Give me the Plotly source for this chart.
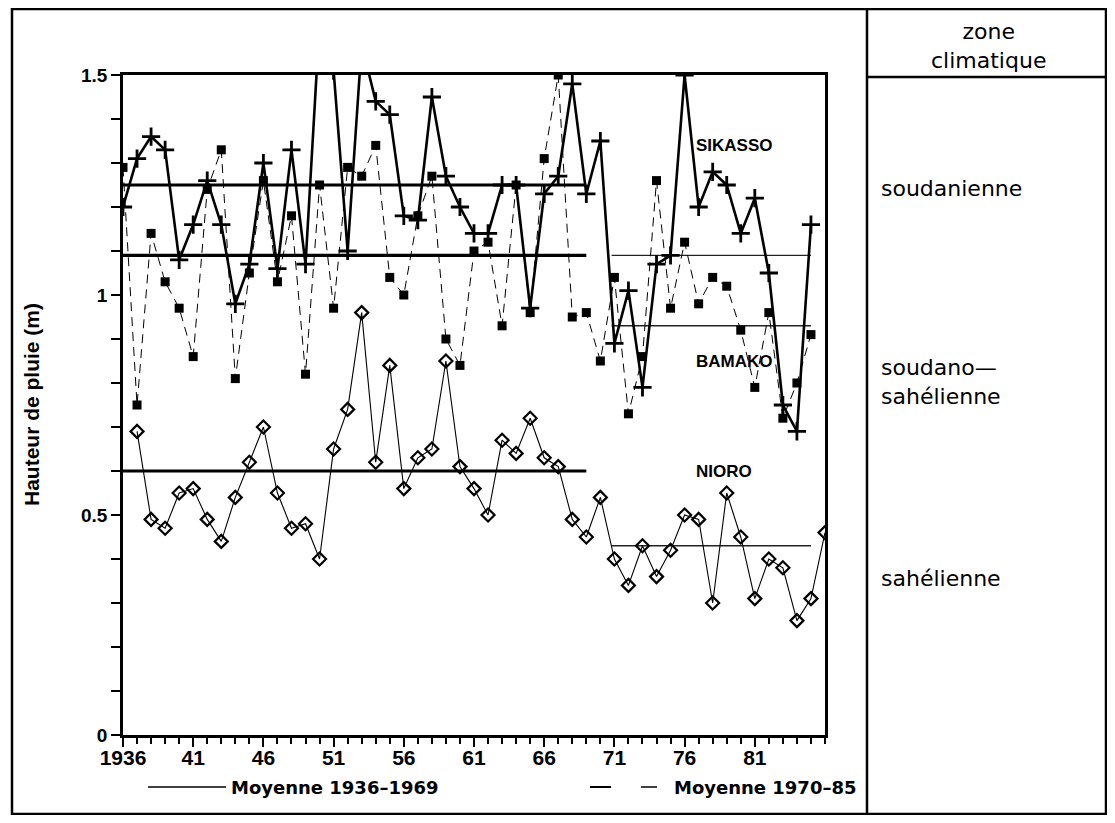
import plotly.graph_objects as go

# ---------------- data ----------------
years = list(range(1936, 1986))
sikasso = [1.20, 1.31, 1.36, 1.33, 1.08, 1.16, 1.26, 1.16, 0.98, 1.07,
           1.30, 1.06, 1.33, 1.07, 1.62, 1.51, 1.10, 1.57, 1.44, 1.41,
           1.18, 1.17, 1.45, 1.27, 1.20, 1.14, 1.14, 1.25, 1.25, 0.97,
           1.23, 1.27, 1.48, 1.23, 1.35, 0.89, 1.01, 0.79, 1.07, 1.09,
           1.50, 1.20, 1.28, 1.25, 1.14, 1.22, 1.05, 0.75, 0.69, 1.16]
bamako = [1.29, 0.75, 1.14, 1.03, 0.97, 0.86, 1.24, 1.33, 0.81, 1.05,
          1.26, 1.03, 1.18, 0.82, 1.25, 0.97, 1.29, 1.27, 1.34, 1.04,
          1.00, 1.18, 1.27, 0.90, 0.84, 1.10, 1.12, 0.93, 1.25, 0.96,
          1.31, 1.50, 0.95, 0.96, 0.85, 1.04, 0.73, 0.86, 1.26, 0.97,
          1.12, 0.98, 1.04, 1.02, 0.92, 0.79, 0.96, 0.72, 0.80, 0.91]
nioro_years = list(range(1937, 1987))
nioro = [0.69, 0.49, 0.47, 0.55, 0.56, 0.49, 0.44, 0.54, 0.62, 0.70,
         0.55, 0.47, 0.48, 0.40, 0.65, 0.74, 0.96, 0.62, 0.84, 0.56,
         0.63, 0.65, 0.85, 0.61, 0.56, 0.50, 0.67, 0.64, 0.72, 0.63,
         0.61, 0.49, 0.45, 0.54, 0.40, 0.34, 0.43, 0.36, 0.42, 0.50,
         0.49, 0.30, 0.55, 0.45, 0.31, 0.40, 0.38, 0.26, 0.31, 0.46]

stations = ["SIKASSO", "BAMAKO", "NIORO"]
mean_1936_69 = [1.25, 1.09, 0.60]
mean_1970_85 = [1.09, 0.93, 0.43]
period1 = [1936, 1969]
period2 = [1970.8, 1985]
label_y = [1.34, 0.85, 0.598]

x_tick_vals = [1936, 1941, 1946, 1951, 1956, 1961, 1966, 1971, 1976, 1981]
x_tick_text = ["1936", "41", "46", "51", "56", "61", "66", "71", "76", "81"]
y_tick_vals = [0, 0.5, 1, 1.5]
y_tick_text = ["0", "0.5", "1", "1.5"]

zones = ["soudanienne", "soudano—<br>sahélienne", "sahélienne"]
legend_texts = ["Moyenne 1936–1969", "Moyenne 1970–85"]

# ---------------- layout geometry (screen pixels; page body has an 8px margin) ----------------
OFF = 8
W, H = 1115 - 2 * OFF, 823 - 2 * OFF
L, R, T, B = 123, 825, 75, 735
def px(x):
    return (x - L) / (R - L)
def py(y):
    return (B - y) / (B - T)

BOLD = "Liberation Sans"
WIDE = "DejaVu Sans"
fig = go.Figure()

# mean lines
for m1, m2 in zip(mean_1936_69, mean_1970_85):
    fig.add_trace(go.Scatter(x=period1, y=[m1, m1], mode="lines",
                             line=dict(color="black", width=3.2),
                             hoverinfo="skip", showlegend=False))
    fig.add_trace(go.Scatter(x=period2, y=[m2, m2], mode="lines",
                             line=dict(color="#222", width=1.4),
                             hoverinfo="skip", showlegend=False))

fig.add_trace(go.Scatter(x=nioro_years, y=nioro, mode="lines+markers", name="NIORO",
                         line=dict(color="black", width=1.1),
                         marker=dict(symbol="diamond-open", size=10, color="black",
                                     line=dict(width=2.2, color="black"))))
fig.add_trace(go.Scatter(x=years, y=bamako, mode="lines+markers", name="BAMAKO",
                         line=dict(color="black", width=1.0, dash="9px,6px"),
                         marker=dict(symbol="square", size=9, color="black")))
fig.add_trace(go.Scatter(x=years, y=sikasso, mode="lines+markers", name="SIKASSO",
                         line=dict(color="black", width=2.6),
                         marker=dict(symbol="cross-thin", size=13, color="black",
                                     line=dict(width=2.8, color="black"))))

# station labels
for name, ly in zip(stations, label_y):
    fig.add_annotation(x=1976.7, y=ly, text=name, showarrow=False, xanchor="left",
                       yanchor="middle", font=dict(family=BOLD, size=17, color="black",
                                                   weight="bold"))

# y axis title
fig.add_annotation(xref="paper", yref="paper", x=px(31), y=py(405),
                   xanchor="center", yanchor="middle",
                   text="Hauteur de pluie (m)", textangle=-90, showarrow=False,
                   font=dict(family=BOLD, size=21, color="black", weight="bold"))

# frame shapes
line_k = dict(color="black", width=2.5)
fig.add_shape(type="rect", xref="paper", yref="paper", x0=px(12), x1=px(1106),
              y0=py(814), y1=py(9), line=line_k)
fig.add_shape(type="line", xref="paper", yref="paper", x0=px(867), x1=px(867),
              y0=py(814), y1=py(9), line=line_k)
fig.add_shape(type="line", xref="paper", yref="paper", x0=px(867), x1=px(1106),
              y0=py(77), y1=py(77), line=line_k)

# right panel texts
fig.add_annotation(xref="paper", yref="paper", x=px(988), y=py(46),
                   xanchor="center", yanchor="middle",
                   text="zone<br>climatique", showarrow=False, align="center",
                   font=dict(family=WIDE, size=22, color="black"))
zone_y = [188, 382, 578]
for z, zy in zip(zones, zone_y):
    fig.add_annotation(xref="paper", yref="paper", x=px(879), y=py(zy), text=z,
                       showarrow=False, xanchor="left", yanchor="middle", align="left",
                       font=dict(family=WIDE, size=22, color="black"))

# bottom legend
fig.add_shape(type="line", xref="paper", yref="paper", x0=px(148), x1=px(226),
              y0=py(787), y1=py(787), line=dict(color="black", width=1.5))
fig.add_shape(type="line", xref="paper", yref="paper", x0=px(590), x1=px(611),
              y0=py(787), y1=py(787), line=dict(color="black", width=2))
fig.add_shape(type="line", xref="paper", yref="paper", x0=px(641), x1=px(657),
              y0=py(787), y1=py(787), line=dict(color="black", width=1.5))
for t, lx in zip(legend_texts, [229, 672]):
    fig.add_annotation(xref="paper", yref="paper", x=px(lx), y=py(787), text=t,
                       showarrow=False, xanchor="left", yanchor="middle",
                       font=dict(family=WIDE, size=18, color="black", weight="bold"))

fig.update_layout(
    width=W, height=H,
    margin=dict(l=L - OFF, r=W - (R - OFF), t=T - OFF, b=H - (B - OFF), pad=0),
    paper_bgcolor="white", plot_bgcolor="white",
    showlegend=False,
    xaxis=dict(range=[1936, 1986], showgrid=False, zeroline=False,
               showline=True, linecolor="black", linewidth=2.5, mirror=True,
               ticks="outside", ticklen=9, tickwidth=2, tickcolor="black",
               tickvals=x_tick_vals, ticktext=x_tick_text, ticklabelstandoff=-7,
               minor=dict(dtick=1, ticks="outside", ticklen=6, tickwidth=1.5,
                          tickcolor="black", showgrid=False),
               tickfont=dict(family=BOLD, size=21, color="black", weight="bold")),
    yaxis=dict(range=[0, 1.5], showgrid=False, zeroline=False,
               showline=True, linecolor="black", linewidth=2.5, mirror=True,
               ticks="outside", ticklen=9, tickwidth=2, tickcolor="black",
               tickvals=y_tick_vals, ticktext=y_tick_text,
               minor=dict(dtick=0.1, ticks="outside", ticklen=9, tickwidth=2,
                          tickcolor="black", showgrid=False),
               tickfont=dict(family=BOLD, size=19, color="black", weight="bold")),
)

fig.write_html("out.html")
